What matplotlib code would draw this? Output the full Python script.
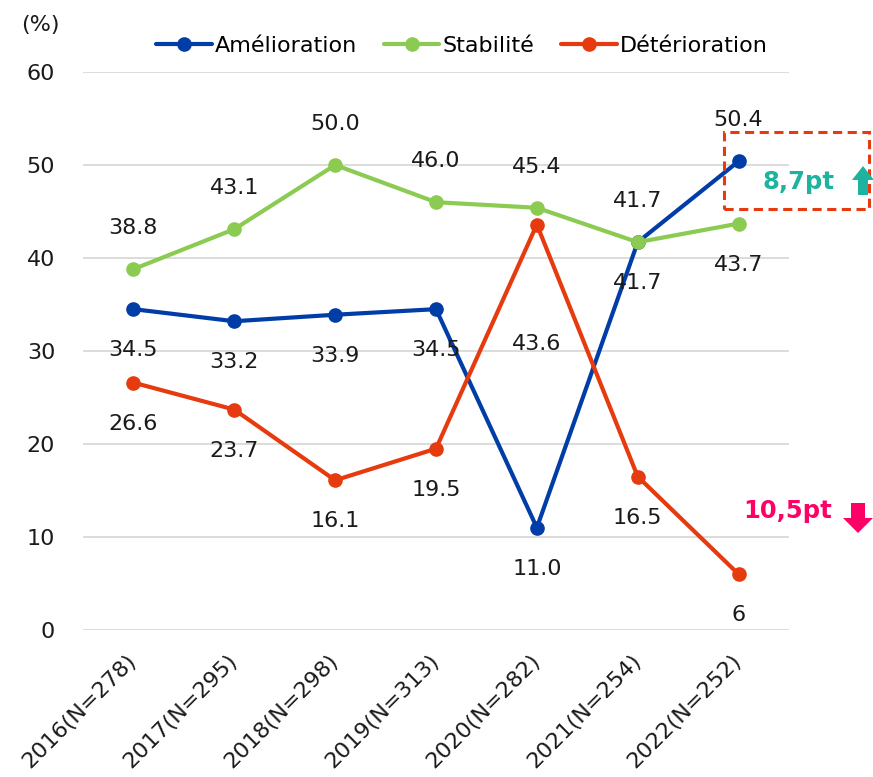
import numpy as np
import matplotlib.pyplot as plt
from matplotlib.patches import Polygon, Rectangle

#%% Data

years       = ['2016(N=278)', '2017(N=295)', '2018(N=298)', '2019(N=313)',
               '2020(N=282)', '2021(N=254)', '2022(N=252)']

amelioration  = [34.5, 33.2, 33.9, 34.5, 11.0, 41.7, 50.4]
stabilite     = [38.8, 43.1, 50.0, 46.0, 45.4, 41.7, 43.7]
deterioration = [26.6, 23.7, 16.1, 19.5, 43.6, 16.5, 6]

# label side for each point: +1 above, -1 below
amelioration_pos  = [-1, -1, -1, -1, -1, -1, 1]
stabilite_pos     = [1, 1, 1, 1, 1, 1, -1]
deterioration_pos = [-1, -1, -1, -1, -1, -1, -1]

gain_text = '8,7pt'
loss_text = '10,5pt'

#%% Style

c_blue  = '#003DA6'
c_green = '#8CCB52'
c_red   = '#E63A0F'
c_teal  = '#1DB39E'
c_pink  = '#FF0066'
c_grid  = '#D9D9D9'
c_text  = '#1A1A1A'

fs = 16
W, H = 873, 777

plt.rcParams['font.family'] = 'DejaVu Sans'

fig = plt.figure(figsize=(W / 100, H / 100), dpi=100)
ax = fig.add_axes([83 / W, 1 - 630 / H, (789 - 83) / W, (630 - 72) / H])

x = np.arange(len(years))

series = [
    ('Amélioration', amelioration, amelioration_pos, c_blue),
    ('Stabilité', stabilite, stabilite_pos, c_green),
    ('Détérioration', deterioration, deterioration_pos, c_red),
]

for name, vals, pos, col in series:
    ax.plot(x, vals, color=col, lw=3, marker='o', ms=9.5, label=name,
            solid_capstyle='round', clip_on=False)
    for xi, v, p in zip(x, vals, pos):
        lab = str(v) if isinstance(v, int) else '%.1f' % v
        off = 29.5 * p
        if name == 'Détérioration' and xi == 4:
            off = -86
        ax.annotate(lab, (xi, v), xytext=(0, off), textcoords='offset points',
                    ha='center', va='center', fontsize=fs, color=c_text)

# Axes formatting
ax.set_xlim(-0.5, len(years) - 0.5)
ax.set_ylim(0, 60)
ax.set_yticks(np.arange(0, 61, 10))
ax.grid(axis='y', color=c_grid, lw=1.3)
ax.set_axisbelow(True)
for s in ax.spines.values():
    s.set_visible(False)
ax.tick_params(axis='y', length=0, pad=20, labelsize=fs, labelcolor=c_text)
ax.tick_params(axis='x', length=0, pad=20, labelsize=fs, labelcolor=c_text)
ax.set_xticks(x)
ax.set_xticklabels(years, rotation=45, ha='right', va='center',
                   rotation_mode='anchor')

fig.text(40 / W, 1 - 25 / H, '(%)', ha='center', va='center',
         fontsize=fs, color=c_text)

ax.legend(loc='center', bbox_to_anchor=(462 / W, 1 - 46 / H),
          bbox_transform=fig.transFigure, ncol=3, frameon=False,
          fontsize=fs, handlelength=2.5, handletextpad=0.15,
          columnspacing=1.2, borderaxespad=0, borderpad=0)

#%% Annotations (pixel positions, origin top-left)

def px(xp, yp):
    return (xp / 100, (H - yp) / 100)

tr = fig.dpi_scale_trans

# dashed box around the last point
x0, y0 = px(724, 209)
fig.patches.append(Rectangle((x0, y0), (869 - 724) / 100, (209 - 132) / 100,
                             transform=tr, fill=False, ec=c_red, lw=2.2,
                             ls=(0, (3, 1.8))))

fig.text(798 / W, 1 - 182 / H, gain_text, ha='center', va='center',
         fontsize=17.5, fontweight='bold', color=c_teal)
fig.text(788 / W, 1 - 511 / H, loss_text, ha='center', va='center',
         fontsize=17.5, fontweight='bold', color=c_pink)

# up arrow
cx = 863
up = [px(cx - 5, 195), px(cx - 5, 180), px(cx - 11, 180), px(cx, 166),
      px(cx + 11, 180), px(cx + 5, 180), px(cx + 5, 195)]
fig.patches.append(Polygon(up, closed=True, transform=tr, fc=c_teal, ec='none'))

# down arrow
cx = 858
dn = [px(cx - 7, 503), px(cx - 7, 518), px(cx - 15, 518), px(cx, 533),
      px(cx + 15, 518), px(cx + 7, 518), px(cx + 7, 503)]
fig.patches.append(Polygon(dn, closed=True, transform=tr, fc=c_pink, ec='none'))

fig.savefig('out.png', dpi=100)
